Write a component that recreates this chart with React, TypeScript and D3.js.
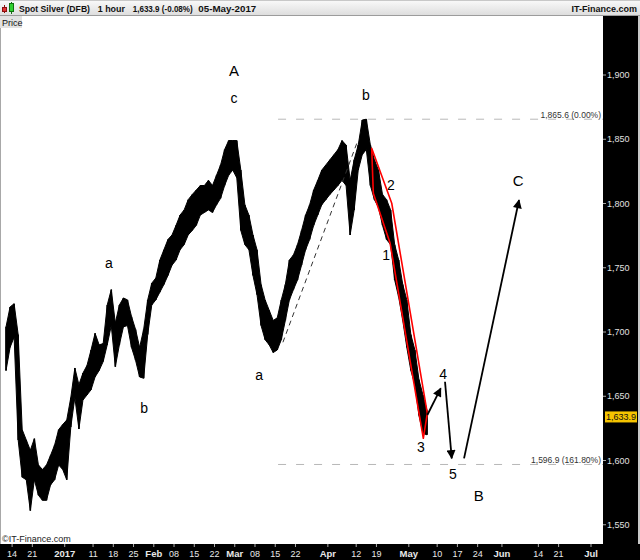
import { scaleLinear, format, line, area, curveLinear } from 'd3';

// trading day 0 = Mon 12-Dec-2016 (axis runs in trading days, weekends squeezed out)
const START = '2016-12-12';

// daily high / low of the hourly bars, 12-Dec-2016 .. 05-May-2017
const HIGHS = [
  1704, 1719.5, 1722, 1698, 1624, 1616, 1608, 1617, 1596.5, 1593,
  1596.5, 1604, 1612, 1624, 1628, 1631.5, 1649, 1672, 1659, 1668,
  1674, 1686, 1699, 1690, 1691, 1721, 1733, 1707, 1721, 1726.5,
  1725, 1712, 1702, 1688, 1702, 1725, 1738, 1742, 1756, 1764,
  1772, 1775.5, 1783, 1791, 1795, 1803, 1807, 1810.5, 1814, 1814,
  1818, 1814, 1822, 1830, 1842, 1849, 1849, 1849, 1826, 1799,
  1791, 1775.5, 1764, 1737, 1725, 1717, 1709, 1711, 1725, 1737,
  1756, 1760, 1768, 1779, 1791, 1799, 1810.5, 1818, 1826, 1830,
  1834, 1838, 1842, 1849, 1845.5, 1818, 1834, 1845.5, 1865, 1865.6,
  1845.5, 1834, 1826, 1807, 1803, 1795, 1768, 1756, 1737, 1725,
  1698, 1686, 1663, 1651, 1639,
];
const LOWS = [
  1670, 1688, 1696, 1616, 1587, 1585, 1561, 1585, 1573, 1569,
  1569, 1581, 1585, 1596.5, 1593, 1585, 1626, 1649, 1624.5, 1647,
  1651, 1655, 1665, 1670, 1677, 1690, 1705, 1673, 1690, 1704,
  1705, 1688, 1678, 1665, 1664, 1698, 1721, 1725, 1731, 1737,
  1744, 1752, 1756, 1764, 1768, 1775.5, 1779, 1783, 1791, 1793,
  1795, 1793, 1799, 1804, 1814, 1822, 1826, 1820, 1779, 1768,
  1764, 1744, 1729, 1705, 1694, 1690, 1684, 1686, 1694, 1709,
  1725, 1733, 1740.5, 1752, 1764, 1772, 1783, 1791, 1799, 1803,
  1807, 1810.5, 1814, 1818, 1814, 1775.5, 1795, 1826, 1838, 1842,
  1814, 1803, 1797, 1783, 1772, 1768, 1740.5, 1727, 1709, 1688,
  1670, 1659, 1635, 1621, 1620,
];
const LAST = 1633.9;

const PRICE_TICKS = [1550, 1600, 1650, 1700, 1750, 1800, 1850, 1900];

const TICK_DATES = [
  '2016-12-14', '2016-12-21', '2017-01-02', '2017-01-11', '2017-01-18', '2017-01-25',
  '2017-02-01', '2017-02-08', '2017-02-15', '2017-02-22', '2017-03-01', '2017-03-08',
  '2017-03-15', '2017-03-22', '2017-04-03', '2017-04-12', '2017-04-19', '2017-05-01',
  '2017-05-10', '2017-05-17', '2017-05-24', '2017-06-01', '2017-06-14', '2017-06-21',
  '2017-07-03',
];
const TICK_LABELS = [
  '14', '21', '2017', '11', '18', '25', 'Feb', '08', '15', '22', 'Mar', '08', '15', '22',
  'Apr', '12', '19', 'May', '10', '17', '24', 'Jun', '14', '21', 'Jul',
];

// fibonacci levels
const FIB_PRICE = [1865.6, 1596.9];
const FIB_TEXT = ['1,865.6 (0.00%)', '1,596.9 (161.80%)'];
const FIB_START = 67.7;

// wave labels (trading day, price)
const WAVE_TEXT = ['A', 'c', 'b', 'a', 'b', 'a', '1', '2', '3', '4', '5', 'B', 'C'];
const WAVE_DAY = [56.8, 56.8, 89.4, 25.9, 34.6, 63, 94.4, 95.6, 103, 108.5, 110.9, 117.3, 127];
const WAVE_PRICE = [1903, 1882, 1884, 1754, 1641, 1666.5, 1760, 1814.4, 1610.5, 1667.3, 1589.5, 1572.4, 1817.5];

// red channel around the impulse down
const CHANNEL_DAY = [90.83, 95.78, 104.57, 103.58, 95.36, 91.23];
const CHANNEL_PRICE = [1843, 1800.2, 1636.7, 1617.3, 1769.3, 1808];

// dashed a -> b connector
const CONNECT_DAY = [68.9, 87.45];
const CONNECT_PRICE = [1692, 1849.4];

// projected path arrows [day0, price0, day1, price1]
const ARROWS = [
  [104.57, 1635.4, 107.88, 1656.2],
  [108.94, 1661.3, 110.6, 1601.7],
  [113.64, 1601.7, 127.22, 1802.7],
];

function tradingIndex(s: string) {
  const c = new Date(START + 'T00:00:00');
  const d = new Date(s + 'T00:00:00');
  let n = 0;
  while (c < d) {
    const wd = c.getDay();
    if (wd !== 0 && wd !== 6) n++;
    c.setDate(c.getDate() + 1);
  }
  return n;
}

const FONT = "'Liberation Sans', Arial, sans-serif";
const PLOT_R = 603;
const PLOT_T = 16;
const PLOT_B = 544;

export default function App() {
  const x = scaleLinear().domain([0, 145]).range([4, 591]);
  const y = scaleLinear().domain([1550, 1900]).range([524.75, 75]);
  const fmt = format(',');

  const channel =
    line<number>()
      .x((_, i) => x(CHANNEL_DAY[i]))
      .y((_, i) => y(CHANNEL_PRICE[i]))(CHANNEL_DAY) + 'Z';

  // continuous body of the hourly bars
  const body = area<number>()
    .x((_, i) => x(i + 0.5))
    .y0((_, i) => y(LOWS[i]))
    .y1((h) => y(h))
    .curve(curveLinear)(HIGHS);

  return (
    <div style={{ position: 'absolute', left: 0, top: 0 }}>
      <svg width={640} height={560} fontFamily={FONT}>
        <defs>
          <linearGradient id="hdr" x1="0" y1="0" x2="0" y2="1">
            <stop offset="0" stopColor="#fafafa" />
            <stop offset="1" stopColor="#dcdcdc" />
          </linearGradient>
          <marker
            id="ah"
            viewBox="0 0 10 10"
            refX="9"
            refY="5"
            markerWidth="10"
            markerHeight="9"
            markerUnits="userSpaceOnUse"
            orient="auto"
          >
            <path d="M0,0 L10,5 L0,10 z" fill="#000" />
          </marker>
          <clipPath id="plot">
            <rect x={1} y={PLOT_T} width={PLOT_R - 1} height={PLOT_B - PLOT_T} />
          </clipPath>
        </defs>

        <rect width={640} height={560} fill="#fff" />

        {/* header */}
        <rect x={0} y={0} width={640} height={PLOT_T} fill="url(#hdr)" />
        <line x1={0} x2={640} y1={15.5} y2={15.5} stroke="#9c9c9c" />
        <line x1={0} x2={640} y1={0.5} y2={0.5} stroke="#c8c8c8" />
        <line x1={4.5} x2={4.5} y1={5} y2={13} stroke="#8a1010" />
        <rect x={2.5} y={7.5} width={4} height={4} fill="#e03030" stroke="#8a1010" />
        <line x1={11.5} x2={11.5} y1={2} y2={14} stroke="#107010" />
        <rect x={9.5} y={3.5} width={4} height={8} fill="#30d030" stroke="#107010" />
        <g fontSize={9} fontWeight="bold" fill="#111">
          <text x={19} y={12} textLength={71} lengthAdjust="spacingAndGlyphs">Spot Silver (DFB)</text>
          <text x={97.7} y={12} textLength={27.3} lengthAdjust="spacingAndGlyphs">1 hour</text>
          <text x={132.7} y={12} textLength={60} lengthAdjust="spacingAndGlyphs">1,633.9 (-0.08%)</text>
          <text x={198.3} y={12} textLength={58} lengthAdjust="spacingAndGlyphs">05-May-2017</text>
          <text x={637} y={12} textAnchor="end">IT-Finance.com</text>
        </g>

        {/* plot frame */}
        <line x1={0.5} x2={0.5} y1={PLOT_T} y2={PLOT_B} stroke="#a8a8a8" />
        <rect x={0} y={PLOT_T} width={22} height={12} fill="#e2e2e2" />
        <text x={2} y={25.5} fontSize={9} fill="#111">Price</text>

        {/* fib levels */}
        {FIB_PRICE.map((p, i) => (
          <g key={p}>
            <line
              x1={x(FIB_START)}
              x2={PLOT_R}
              y1={y(p)}
              y2={y(p)}
              stroke="#b8b8b8"
              strokeDasharray="8 10"
            />
            <text x={601} y={y(p) - 1.5} fontSize={8.5} textAnchor="end" fill="#333">
              {FIB_TEXT[i]}
            </text>
          </g>
        ))}

        <g clipPath="url(#plot)">
          {/* price */}
          <path d={body ?? ''} fill="#000" stroke="#000" strokeWidth={1} strokeLinejoin="round" />
          {HIGHS.map((h, i) => (
            <line
              key={i}
              x1={x(i + 0.5)}
              x2={x(i + 0.5)}
              y1={y(h)}
              y2={y(LOWS[i])}
              stroke="#000"
              strokeWidth={1.6}
            />
          ))}

          {/* a-b connector */}
          <line
            x1={x(CONNECT_DAY[0])}
            y1={y(CONNECT_PRICE[0])}
            x2={x(CONNECT_DAY[1])}
            y2={y(CONNECT_PRICE[1])}
            stroke="#333"
            strokeDasharray="5 4"
          />

          {/* channel */}
          <path d={channel} fill="none" stroke="#ff0000" strokeWidth={1.6} strokeLinejoin="round" />

          {/* projection arrows */}
          {ARROWS.map((a, i) => (
            <line
              key={i}
              x1={x(a[0])}
              y1={y(a[1])}
              x2={x(a[2])}
              y2={y(a[3])}
              stroke="#000"
              strokeWidth={1.8}
              markerEnd="url(#ah)"
            />
          ))}

          {/* wave labels */}
          {WAVE_TEXT.map((t, i) => (
            <text
              key={i}
              x={x(WAVE_DAY[i])}
              y={y(WAVE_PRICE[i])}
              dy="0.35em"
              textAnchor="middle"
              fontSize={/[ABC]/.test(t) ? 15 : 14}
              fill="#000"
            >
              {t}
            </text>
          ))}
        </g>

        <text x={2} y={542} fontSize={9} fill="#222">©IT-Finance.com</text>

        {/* right axis */}
        <rect x={PLOT_R} y={PLOT_T} width={35} height={PLOT_B - PLOT_T} fill="#000" />
        <rect x={638} y={PLOT_T} width={2} height={PLOT_B - PLOT_T} fill="#c8c8c8" />
        {PRICE_TICKS.map((p) => (
          <g key={p}>
            <line x1={PLOT_R} x2={PLOT_R + 3} y1={y(p)} y2={y(p)} stroke="#aaa" />
            <text x={PLOT_R + 4} y={y(p)} dy="0.35em" fontSize={9} fill="#e0e0e0">
              {fmt(p)}
            </text>
          </g>
        ))}
        <rect x={PLOT_R + 2} y={y(LAST) - 5.5} width={32} height={11} fill="#f5c400" />
        <text x={PLOT_R + 3} y={y(LAST)} dy="0.35em" fontSize={9} fill="#111">
          {format(',.1f')(LAST)}
        </text>

        {/* bottom axis */}
        <rect x={0} y={PLOT_B} width={640} height={560 - PLOT_B} fill="#000" />
        {TICK_DATES.map((d, i) => {
          const tx = x(tradingIndex(d));
          const bold = TICK_LABELS[i].length !== 2;
          return (
            <g key={d}>
              <line x1={tx} x2={tx} y1={PLOT_B} y2={PLOT_B + 3} stroke="#aaa" />
              <text
                x={tx}
                y={557}
                textAnchor="middle"
                fontSize={bold ? 9.5 : 9}
                fontWeight={bold ? 'bold' : 'normal'}
                fill="#e8e8e8"
              >
                {TICK_LABELS[i]}
              </text>
            </g>
          );
        })}
      </svg>
    </div>
  );
}
